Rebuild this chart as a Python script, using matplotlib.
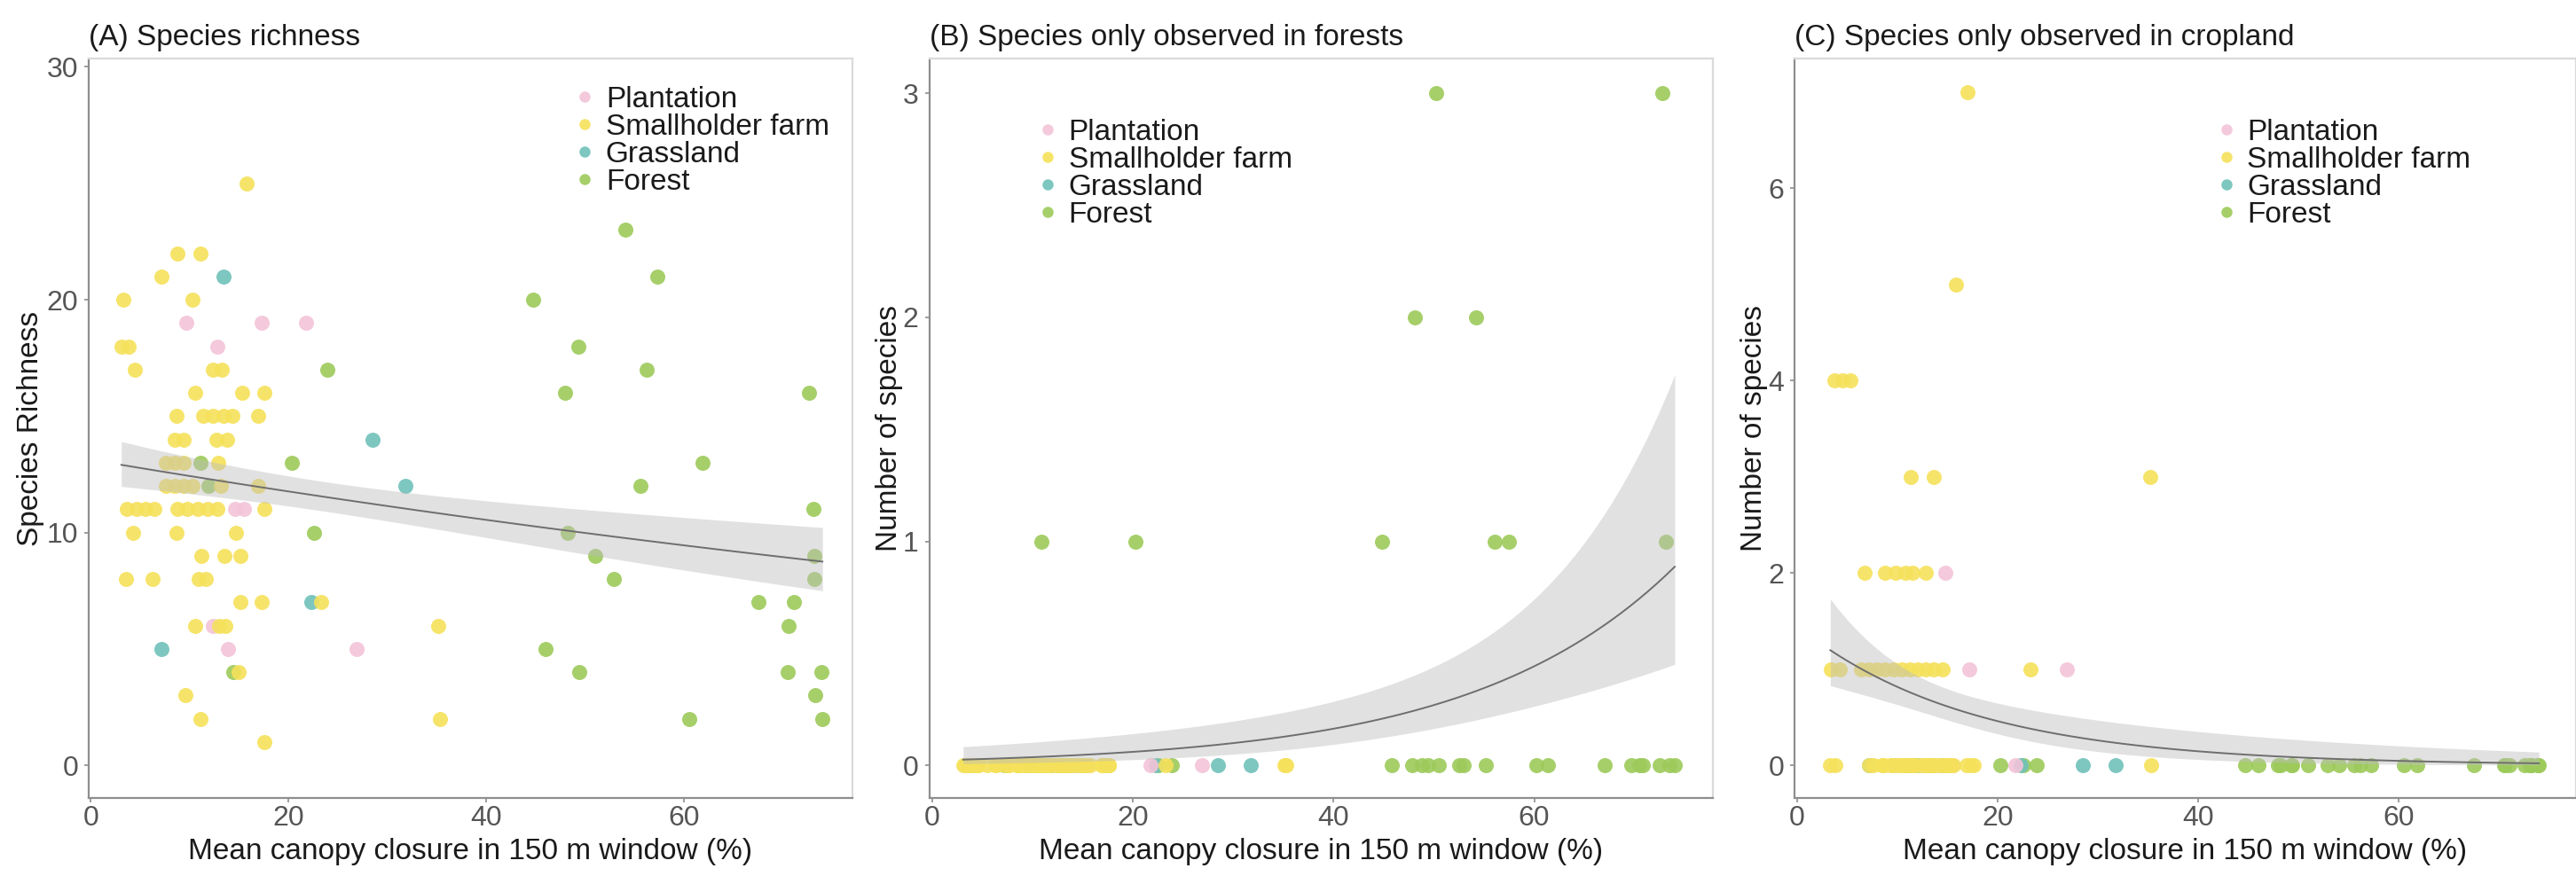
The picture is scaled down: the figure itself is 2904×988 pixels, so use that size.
import numpy as np
import matplotlib
matplotlib.use("Agg")
import matplotlib.pyplot as plt
from matplotlib.lines import Line2D

plt.rcParams['font.family'] = ['Liberation Sans', 'DejaVu Sans']

# ---------------- data ----------------
categories = ['Plantation', 'Smallholder farm', 'Grassland', 'Forest']
cat_colors = ['#F3C4D8', '#F5E15A', '#6FC1B9', '#9CCA5A']

titles = ['(A) Species richness',
          '(B) Species only observed in forests',
          '(C) Species only observed in cropland']
xlabel = 'Mean canopy closure in 150 m window (%)'
ylabels = ['Species Richness', 'Number of species', 'Number of species']
xticks = [0, 20, 40, 60]
yticks_A = [0, 10, 20, 30]
yticks_B = [0, 1, 2, 3]
yticks_C = [0, 2, 4, 6]

# Panel A: species richness
plantation_x = [9.7, 17.3, 21.8, 12.8, 14.6, 15.5, 12.4, 13.9, 26.9]
plantation_A = [19, 19, 19, 18, 11, 11, 6, 5, 5]

smallholder_x = [15.8, 8.8, 11.1, 7.2, 3.3, 10.3, 3.1, 3.8, 4.5, 12.4, 13.3,
                 10.6, 15.3, 17.6, 8.7, 11.4, 12.4, 13.4, 14.3, 16.9,
                 8.5, 9.4, 12.7, 13.8, 7.6, 8.5, 9.4, 12.9,
                 7.6, 8.5, 9.4, 10.3, 13.2, 16.9,
                 3.7, 4.6, 5.5, 6.4, 8.8, 9.8, 10.8, 11.8, 12.8, 17.6,
                 4.3, 8.7, 14.7, 11.2, 13.5, 15.1, 3.6, 6.3, 10.9, 11.6,
                 15.1, 17.3, 23.3, 10.6, 13.0, 13.6, 35.1, 15.0, 9.6,
                 11.1, 35.3, 17.6]
smallholder_A = [25, 22, 22, 21, 20, 20, 18, 18, 17, 17, 17,
                 16, 16, 16, 15, 15, 15, 15, 15, 15,
                 14, 14, 14, 14, 13, 13, 13, 13,
                 12, 12, 12, 12, 12, 12,
                 11, 11, 11, 11, 11, 11, 11, 11, 11, 11,
                 10, 10, 10, 9, 9, 9, 8, 8, 8, 8,
                 7, 7, 7, 6, 6, 6, 6, 4, 3,
                 2, 2, 1]

grassland_x = [13.4, 28.5, 31.8, 22.3, 7.2]
grassland_A = [21, 14, 12, 7, 5]

forest_x = [11.1, 11.9, 14.4, 20.3, 22.6, 23.9, 44.7, 46.0, 48.0, 48.2, 49.3,
            49.4, 51.0, 52.9, 54.1, 55.6, 56.2, 57.3, 60.5, 61.9, 67.5, 70.5,
            70.6, 71.1, 72.6, 73.1, 73.2, 73.2, 73.3, 73.9, 74.0]
forest_A = [13, 12, 4, 13, 10, 17, 20, 5, 16, 10, 18,
            4, 9, 8, 23, 12, 17, 21, 2, 13, 7, 4,
            6, 7, 16, 11, 9, 8, 3, 4, 2]

# Panel B: species only observed in forests
plantation_B = [0, 0, 0, 0, 0, 0, 0, 0, 0]
smallholder_B = [0] * len(smallholder_x)
grassland_B = [0, 0, 0, 0, 0]
forest_B_x = [50.2, 72.8, 48.1, 54.2, 10.9, 20.3, 44.8, 56.1, 57.5, 73.1,
              11.9, 14.4, 22.6, 23.9, 45.8, 47.8, 48.8, 49.4, 50.5, 52.5,
              53.0, 55.2, 60.2, 61.4, 67.0, 69.7, 70.5, 70.8, 72.5, 73.5, 74.0]
forest_B = [3, 3, 2, 2, 1, 1, 1, 1, 1, 1,
            0, 0, 0, 0, 0, 0, 0, 0, 0, 0,
            0, 0, 0, 0, 0, 0, 0, 0, 0, 0, 0]

# Panel C: species only observed in cropland
plantation_C_x = [14.8, 17.2, 26.9, 9.7, 12.4, 12.8, 13.9, 15.5, 21.8]
plantation_C = [2, 1, 1, 0, 0, 0, 0, 0, 0]
smallholder_C_x = [17.0, 15.8, 3.7, 4.5, 5.3, 11.3, 13.6, 35.2,
                   6.7, 8.8, 9.8, 10.8, 11.5, 12.8,
                   3.4, 4.2, 6.4, 7.2, 8.0, 8.8, 9.6, 10.4, 11.2, 12.0, 12.8,
                   13.6, 14.5, 23.3,
                   3.3, 3.8, 7.2, 7.6, 8.5, 8.5, 8.7, 9.4, 9.4, 9.8, 10.3,
                   10.6, 10.6, 10.9, 11.1, 11.2, 11.4, 11.6, 11.8, 12.4, 12.7,
                   12.9, 13.0, 13.2, 13.3, 13.4, 13.5, 13.8, 14.3, 14.7, 15.0,
                   15.1, 15.3, 15.6, 16.9, 17.3, 17.6, 35.3]
smallholder_C = [7, 5, 4, 4, 4, 3, 3, 3,
                 2, 2, 2, 2, 2, 2,
                 1, 1, 1, 1, 1, 1, 1, 1, 1, 1, 1, 1, 1, 1,
                 0, 0, 0, 0, 0, 0, 0, 0, 0, 0, 0,
                 0, 0, 0, 0, 0, 0, 0, 0, 0, 0,
                 0, 0, 0, 0, 0, 0, 0, 0, 0, 0,
                 0, 0, 0, 0, 0, 0, 0]
grassland_C = [0, 0, 0, 0, 0]
forest_C = [0] * len(forest_x)


# ---------------- model fits (Poisson GLM computed from the points) ----------------
def fit_poisson(x, y, n=80):
    x = np.asarray(x, float); y = np.asarray(y, float)
    X = np.column_stack([np.ones_like(x), x])
    beta = np.array([np.log(y.mean()), 0.0])
    for _ in range(100):
        eta = X @ beta
        mu = np.exp(eta)
        z = eta + (y - mu) / mu
        XtW = X.T * mu
        new = np.linalg.solve(XtW @ X, XtW @ z)
        if np.max(np.abs(new - beta)) < 1e-10:
            beta = new
            break
        beta = new
    mu = np.exp(X @ beta)
    cov = np.linalg.inv((X.T * mu) @ X)
    xg = np.linspace(x.min(), x.max(), n)
    Xg = np.column_stack([np.ones_like(xg), xg])
    eta = Xg @ beta
    se = np.sqrt(np.einsum('ij,jk,ik->i', Xg, cov, Xg))
    return xg, np.exp(eta), np.exp(eta - 1.96 * se), np.exp(eta + 1.96 * se)


panels = [
    dict(series=[(plantation_x, plantation_A), (smallholder_x, smallholder_A),
                 (grassland_x, grassland_A), (forest_x, forest_A)],
         xlim=(-0.2, 77.0), ylim=(-1.4, 30.36), yticks=yticks_A,
         pos=[100 / 2904, 88 / 988, 860.6 / 2904, 834 / 988],
         leg=(0.640, 0.963), ylab_x=-0.058),
    dict(series=[(plantation_x, plantation_B), (smallholder_x, smallholder_B),
                 (grassland_x, grassland_B), (forest_B_x, forest_B)],
         xlim=(-0.28, 77.8), ylim=(-0.145, 3.155), yticks=yticks_B,
         pos=[1047.5 / 2904, 88 / 988, 883.5 / 2904, 834 / 988],
         leg=(0.1416, 0.919), ylab_x=-0.0334),
    dict(series=[(plantation_C_x, plantation_C), (smallholder_C_x, smallholder_C),
                 (grassland_x, grassland_C), (forest_x, forest_C)],
         xlim=(-0.27, 77.7), ylim=(-0.34, 7.35), yticks=yticks_C,
         pos=[2023 / 2904, 88 / 988, 881 / 2904, 834 / 988],
         leg=(0.543, 0.919), ylab_x=-0.034),
]

fig = plt.figure(figsize=(29.04, 9.88), dpi=100)
draw_order = [3, 2, 0, 1]  # forest, grassland, plantation, smallholder on top

for i, p in enumerate(panels):
    ax = fig.add_axes(p['pos'])
    for k in draw_order:
        xs, ys = p['series'][k]
        ax.scatter(xs, ys, s=150, color=cat_colors[k], alpha=0.9,
                   linewidths=0, zorder=2)
    allx = np.concatenate([np.asarray(s[0], float) for s in p['series']])
    ally = np.concatenate([np.asarray(s[1], float) for s in p['series']])
    xg, fit, lo, hi = fit_poisson(allx, ally)
    ax.fill_between(xg, lo, hi, color='#BDBDBD', alpha=0.45, linewidth=0, zorder=3)
    ax.plot(xg, fit, color='#6E6E6E', lw=1.4, zorder=4)

    ax.set_xlim(*p['xlim'])
    ax.set_ylim(*p['ylim'])
    ax.set_xticks(xticks)
    ax.set_yticks(p['yticks'])
    for s in ['top', 'right']:
        ax.spines[s].set_color('#DADADA')
        ax.spines[s].set_linewidth(1.6)
    for s in ['left', 'bottom']:
        ax.spines[s].set_color('#8E8E8E')
        ax.spines[s].set_linewidth(1.6)
    ax.tick_params(axis='both', length=3.5, width=1.2, color='#8E8E8E',
                   labelsize=23, labelcolor='#555555')
    ax.tick_params(axis='y', pad=5)
    ax.tick_params(axis='x', pad=2.5)

    ax.set_title(titles[i], loc='left', fontsize=24, color='#1A1A1A', pad=10.8)
    ax.set_xlabel(xlabel, fontsize=24, color='#1A1A1A')
    ax.xaxis.set_label_coords(0.5, -0.054)
    ax.set_ylabel(ylabels[i], fontsize=24, color='#1A1A1A')
    ax.yaxis.set_label_coords(p['ylab_x'], 0.5)

    handles = [Line2D([], [], marker='o', linestyle='', markersize=9,
                      markerfacecolor=c, markeredgewidth=0, alpha=0.9)
               for c in cat_colors]
    ax.legend(handles, categories, loc='upper left', bbox_to_anchor=p['leg'],
              frameon=False, fontsize=24, borderpad=0, borderaxespad=0,
              handlelength=0.5, handletextpad=0.46, labelspacing=0.0,
              labelcolor='#1A1A1A')

fig.savefig('out.png', dpi=100)
